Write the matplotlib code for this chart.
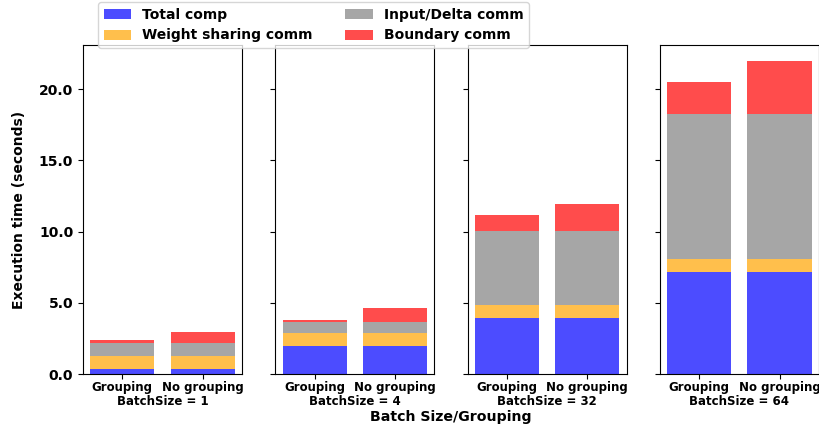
import matplotlib.pyplot as plt
import numpy as np
from matplotlib.ticker import FormatStrFormatter

batch_sizes = [1, 4, 32, 64]
modes = ['Grouping', 'No grouping']
series = ['Total comp', 'Weight sharing comm', 'Input/Delta comm', 'Boundary comm']
colors = ['blue', 'orange', 'gray', 'red']

# seconds per batch size, [grouping, no grouping]
total_comp = [[0.39, 0.39], [2.0, 2.0], [3.96, 3.96], [7.17, 7.17]]
weight_comm = [[0.86, 0.86], [0.85, 0.85], [0.91, 0.91], [0.89, 0.89]]
input_comm = [[0.90, 0.90], [0.78, 0.78], [5.17, 5.17], [10.2, 10.2]]
boundary_comm = [[0.21, 0.79], [0.19, 1.0], [1.13, 1.93], [2.27, 3.75]]


def main():
    fig, axes = plt.subplots(1, 4, sharey=True, figsize=(8.19, 4.28), dpi=100)
    fig.subplots_adjust(left=0.1013, right=1.0, bottom=0.126, top=0.895, wspace=0.209)

    x = np.arange(len(modes))
    for i, ax in enumerate(axes):
        bottom = np.zeros(len(modes))
        for name, data, c in zip(series, [total_comp, weight_comm, input_comm, boundary_comm], colors):
            vals = np.array(data[i])
            ax.bar(x, vals, 0.8, bottom=bottom, color=c, alpha=0.7, label=name)
            bottom += vals
        ax.set_xticks(x)
        ax.set_xticklabels(modes, fontsize=8.5, fontweight='bold')
        ax.tick_params(axis='x', pad=1.5)
        ax.set_xlabel('BatchSize = %d' % batch_sizes[i], fontsize=8.5, fontweight='bold', labelpad=1)

    axes[0].yaxis.set_major_formatter(FormatStrFormatter('%.1f'))
    axes[0].tick_params(axis='y', labelsize=10)
    for lbl in axes[0].get_yticklabels():
        lbl.set_fontweight('bold')
    axes[0].set_ylabel('Execution time (seconds)', fontsize=10, fontweight='bold', labelpad=9)

    fig.text(0.551, 0.01, 'Batch Size/Grouping', ha='center', va='bottom',
             fontsize=10.2, fontweight='bold')

    handles, labels = axes[0].get_legend_handles_labels()
    fig.legend(handles, labels, loc='upper left', bbox_to_anchor=(98 / 819, 1 - 2 / 428),
               borderaxespad=0, ncol=2, prop={'weight': 'bold', 'size': 10},
               columnspacing=2.3, handlelength=2.0)

    plt.savefig('out.png')


if __name__ == "__main__":
    main()
